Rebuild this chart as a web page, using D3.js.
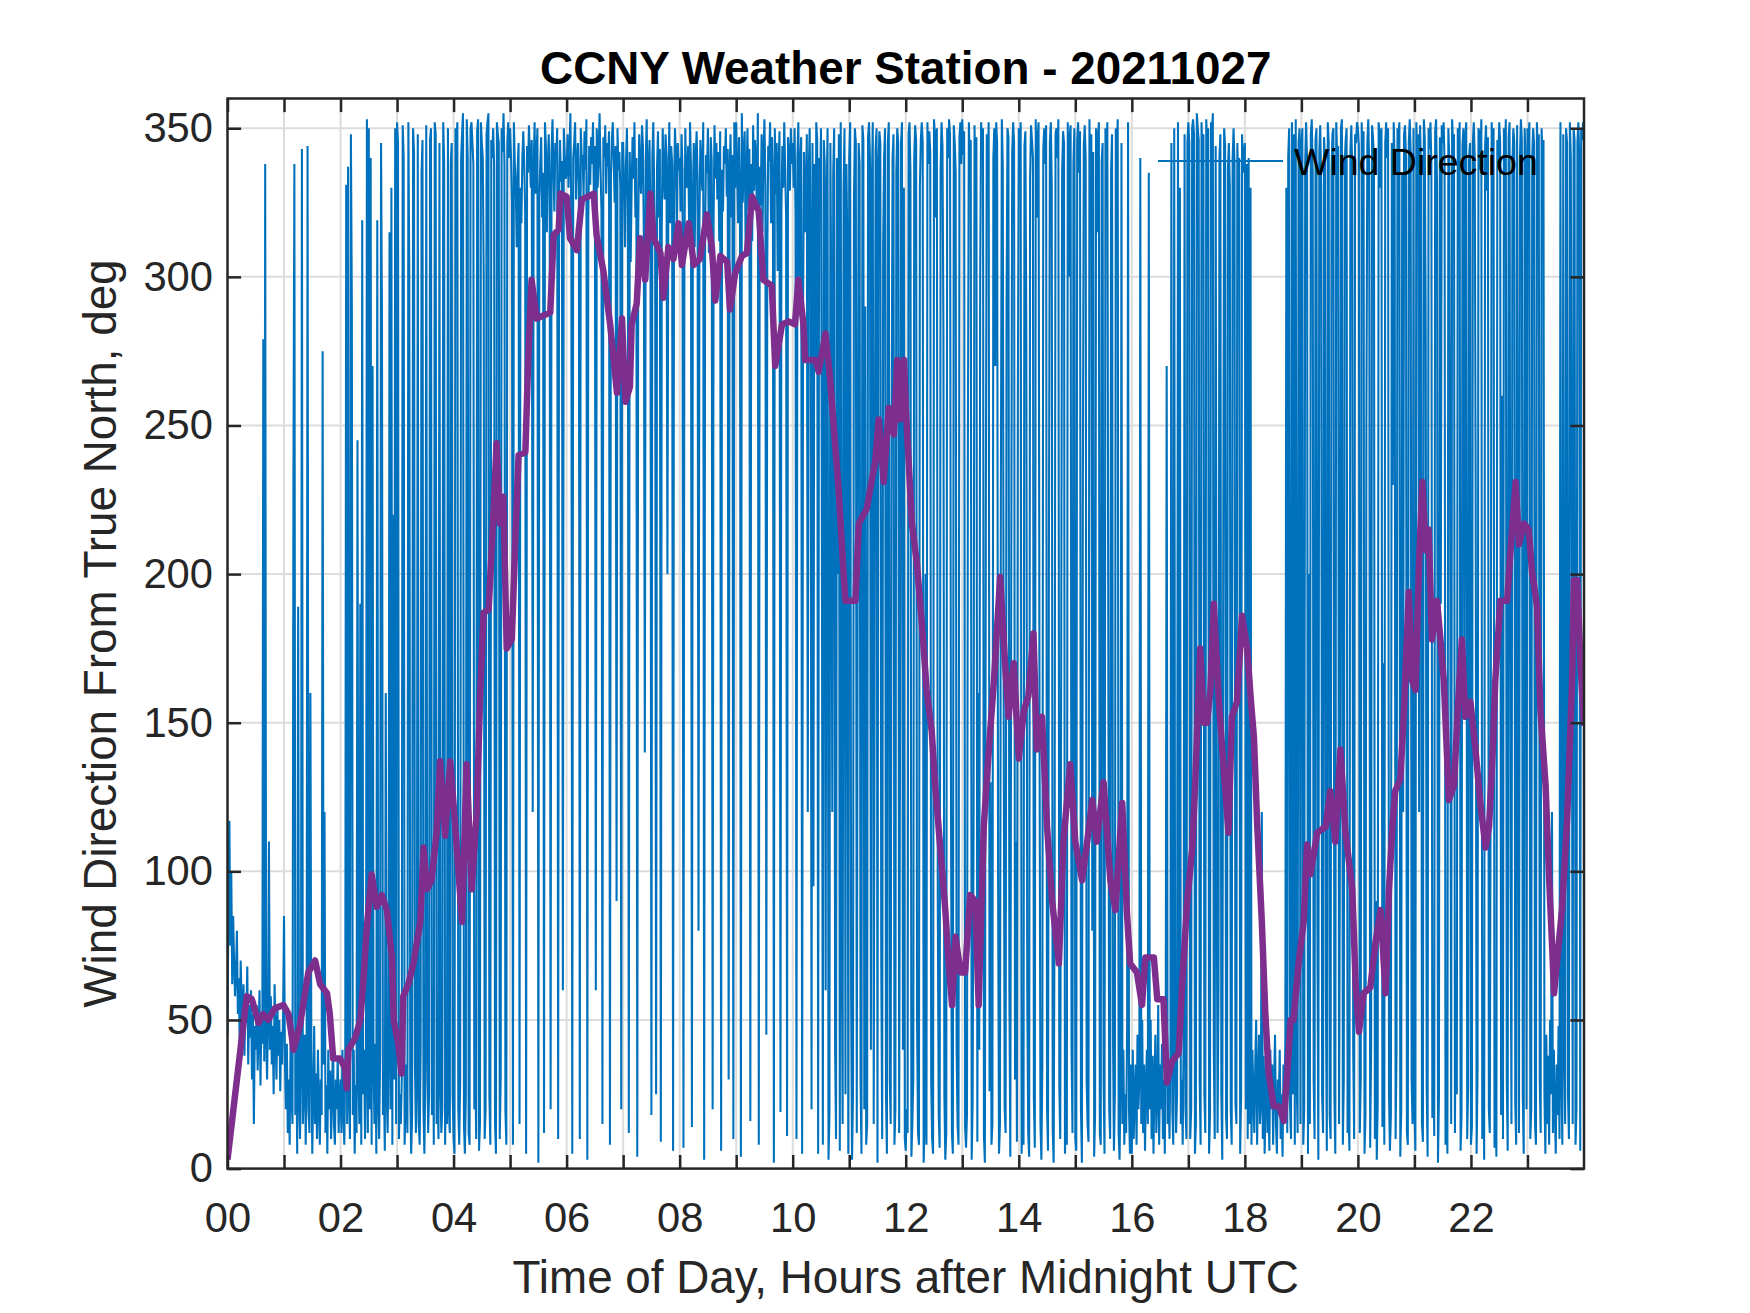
<!DOCTYPE html>
<html>
<head>
<meta charset="utf-8">
<script src="https://cdn.jsdelivr.net/npm/d3@7"></script>
<style>
  body { margin: 0; background: #fff; }
  text { font-family: "Liberation Sans", Arial, sans-serif; }
</style>
</head>
<body>
<div id="container"></div>
<script>
const width = 1750;
const height = 1313;
const plot = { left: 227.5, top: 98.5, right: 1584, bottom: 1168.6 };

// wind direction, one row per hour, one reading per minute
const windDir = [
  [45,90,117,75,100,62,85,70,58,66, 80,52,64,40,70,55,47,62,38,58, 50,68,35,55,44,60,30,52,15,48, 40,55,33,46,60,28,50,42,279,36, 338,45,30,52,110,40,58,35,48,25, 62,44,30,55,38,50,26,46,35,52],
  [85,35,20,42,12,30,8,45,25,15, 232,338,18,40,5,189,22,10,35,343, 15,28,45,8,30,344,20,12,160,38, 5,25,48,15,32,10,40,22,8,30, 18,275,35,120,12,28,5,40,20,33, 10,25,45,15,8,30,20,38,12,25],
  [30,12,40,20,8,35,331,15,337,25, 10,348,290,18,40,5,28,12,245,30, 15,190,8,319,25,40,10,30,353,12, 350,20,340,8,270,35,15,42,5,319, 22,10,38,345,285,18,30,6,160,25, 12,40,315,20,330,8,220,30,350,15],
  [352,345,10,25,15,30,351,340,8,20, 35,12,352,300,25,5,18,350,342,35, 12,28,348,15,8,40,335,346,20,5, 30,351,45,12,25,346,350,18,60,8, 352,348,15,25,10,345,30,12,20,352, 338,8,35,15,350,20,12,338,345,25],
  [10,5,350,345,352,20,8,30,340,348, 355,15,5,25,353,340,12,8,350,352, 345,338,20,35,10,349,353,6,15,352, 345,340,300,10,20,348,352,355,25,8, 346,340,350,338,15,5,352,348,345,10, 30,350,342,355,338,20,8,345,352,340],
  [350,340,325,8,352,338,331,310,336,345, 15,330,318,340,349,338,322,5,344,335, 351,340,330,346,120,335,352,328,341,350, 2,326,338,347,320,335,12,352,344,315, 337,348,330,20,342,353,336,322,345,340, 350,10,328,346,332,339,60,350,341,333],
  [335,348,330,342,355,318,5,340,345,352, 326,338,345,332,10,350,340,341,327,349, 336,353,3,320,344,331,347,338,352,325, 344,60,350,330,341,355,336,322,15,347, 340,351,328,345,337,349,8,333,346,352, 339,325,344,90,350,336,342,330,20,345],
  [345,330,310,338,350,325,12,342,305,330, 347,333,352,320,340,4,315,348,336,328, 351,344,312,140,339,353,322,334,346,318, 18,340,352,330,308,25,337,349,320,343, 9,316,350,335,326,348,340,200,332,352, 318,344,338,6,327,350,341,314,345,336],
  [340,322,348,336,7,305,350,330,331,344, 318,352,337,14,326,345,310,340,349,333, 80,320,346,338,329,352,3,315,341,335, 350,308,324,347,339,20,318,351,333,345, 326,342,312,349,6,336,322,344,338,350, 327,343,30,335,348,320,341,10,352,330],
  [352,336,318,347,330,4,355,325,341,349, 310,334,350,322,343,16,338,312,351,329, 346,340,320,355,8,337,324,348,315,342, 353,331,45,306,344,339,352,318,347,333, 2,350,328,345,302,338,349,19,322,344, 330,352,336,320,11,347,341,329,350,338],
  [345,330,350,320,10,340,352,300,338,347, 5,290,342,315,330,348,120,335,350,310, 20,345,95,338,270,352,346,5,340,325, 350,210,8,346,338,60,325,350,3,18, 345,290,120,335,350,40,10,340,200,348, 6,352,80,15,330,350,25,338,310,5],
  [340,352,60,3,25,325,350,345,12,210, 345,338,30,5,351,346,20,290,8,15, 347,352,340,40,330,352,15,180,343,350, 2,336,349,345,70,10,310,340,350,25, 5,345,352,30,15,250,340,348,8,20, 335,350,345,12,160,345,352,40,330,10],
  [6,20,12,348,352,335,4,15,30,340, 351,346,50,12,8,330,346,352,345,2, 15,200,8,352,338,349,342,30,10,5, 353,347,320,350,90,18,7,336,352,344, 280,25,3,12,350,340,353,348,130,12, 5,351,345,335,40,15,8,347,352,338],
  [353,341,349,14,7,18,250,352,338,346, 3,22,120,351,330,347,9,160,40,300, 352,344,350,11,2,220,348,335,352,26, 130,8,15,340,350,270,352,345,100,5, 15,230,353,338,150,20,12,290,350,347, 60,4,200,342,352,345,30,110,9,260],
  [350,337,352,5,18,8,344,349,280,60, 12,4,333,351,346,340,24,7,353,320, 347,352,150,15,3,35,343,350,338,351, 20,6,210,345,352,330,14,2,90,348, 350,340,353,28,10,170,335,349,345,5, 18,8,352,300,347,351,40,12,338,350],
  [10,6,346,352,335,349,20,2,230,344, 351,340,30,15,9,353,327,348,80,342, 4,18,350,315,347,352,12,8,339,345, 30,5,350,343,352,180,20,10,336,348, 45,6,25,350,340,353,12,3,30,345, 15,40,8,25,12,48,352,20,5,35],
  [5,40,10,25,35,8,45,20,30,340, 15,50,12,35,6,28,40,15,335,20, 50,10,38,5,30,45,12,25,55,8, 35,20,42,10,30,5,48,270,15,28, 10,40,345,20,8,350,35,12,25,352, 40,330,15,30,8,45,348,20,10,345],
  [352,345,10,20,350,353,348,5,15,355, 350,346,30,8,352,340,348,25,12,353, 345,350,5,18,352,348,355,40,10,344, 120,12,60,340,348,25,3,200,350,344, 18,10,336,345,330,20,8,340,350,338, 22,15,345,330,340,5,25,348,335,342],
  [345,20,338,10,340,15,330,8,40,25, 12,35,50,8,30,45,15,22,120,10, 38,5,25,48,12,30,6,40,20,35, 8,28,45,15,5,30,22,40,10,25, 4,35,18,45,330,12,340,350,20,10, 352,25,348,8,353,30,12,345,350,15],
  [345,350,8,20,338,352,340,5,200,15, 348,353,335,30,10,346,350,80,3,342, 351,330,25,12,347,340,60,6,352,345, 18,10,336,348,350,25,5,352,340,344, 15,120,350,353,8,30,338,346,350,12, 20,6,342,351,335,40,10,348,345,352],
  [350,344,12,30,352,338,349,5,18,250, 345,353,336,7,40,351,347,340,10,90, 3,22,352,348,330,350,14,170,8,345, 352,340,350,25,6,18,345,230,352,338, 10,40,350,347,352,4,20,335,120,348, 351,340,12,8,345,353,342,30,15,350],
  [20,6,352,340,348,120,351,335,15,9, 353,346,280,28,4,350,343,352,338,17, 60,11,349,353,330,2,24,347,190,351, 345,352,338,8,30,5,350,340,210,15, 353,345,348,12,70,25,350,336,352,6, 18,344,350,160,347,352,10,28,340,345],
  [8,14,345,352,340,230,5,33,350,348, 336,353,10,70,3,344,351,329,347,20, 12,150,352,341,350,7,26,4,346,338, 352,345,18,260,10,350,340,353,30,6, 347,352,100,15,338,350,345,22,8,351, 180,12,340,353,346,25,5,350,338,20],
  [350,345,352,10,20,340,350,345,15,8, 352,340,348,30,12,350,338,346,25,5, 45,15,38,8,50,25,120,12,40,20, 5,35,18,48,10,352,30,8,348,40, 15,350,345,25,10,352,340,200,15,350, 346,8,20,345,352,340,6,350,346,352]
];

// smoothed direction [hour, deg]
const smoothDir = [
  [0,3],[0.34,58],[0.43,57],[0.55,49],[0.63,52],[0.72,50],[0.84,54],[0.99,55],[1.08,52],[1.17,40],[1.28,48],[1.37,59],[1.43,66],[1.55,70],[1.64,62],[1.76,59],[1.81,52],[1.87,37],[1.99,37],[2.08,34],[2.11,27],[2.14,40],[2.26,44],[2.35,50],[2.40,62],[2.46,80],[2.55,99],[2.64,88],[2.73,92],[2.82,87],[2.91,71],[2.94,50],[3.02,42],[3.08,32],[3.11,58],[3.20,62],[3.29,69],[3.41,83],[3.47,108],[3.53,94],[3.61,97],[3.70,113],[3.76,137],[3.85,112],[3.94,137],
  [4.03,115],[4.15,83],[4.23,136],[4.32,94],[4.41,120],[4.47,159],[4.53,187],[4.62,188],[4.71,222],[4.76,244],[4.82,217],[4.88,226],[4.94,175],[5.03,178],[5.09,210],[5.15,240],[5.27,241],[5.32,272],[5.38,299],[5.47,286],[5.71,288],[5.77,314],[5.86,316],[5.89,328],[6.00,327],[6.06,313],[6.18,309],[6.27,326],[6.48,328],[6.53,314],[6.65,302],[6.77,284],[6.89,261],[6.98,286],[7.04,258],[7.12,263],[7.15,284],[7.24,291],[7.30,313],[7.39,299],[7.48,328],[7.54,313],[7.66,308],[7.71,293],[7.80,310],[7.89,306],[7.98,318],
  [8.04,304],[8.16,318],[8.25,304],[8.36,306],[8.48,321],[8.57,310],[8.63,292],[8.72,307],[8.84,305],[8.89,289],[8.98,301],[9.10,307],[9.19,308],[9.28,327],[9.40,322],[9.48,299],[9.63,297],[9.69,270],[9.81,284],[9.93,285],[10.04,284],[10.10,299],[10.19,284],[10.22,272],[10.40,272],[10.46,268],[10.58,281],[10.66,266],[10.81,229],[10.87,210],[10.93,191],[11.11,191],[11.17,217],[11.31,222],[11.46,238],[11.52,252],[11.61,231],[11.70,256],[11.79,247],[11.85,272],[11.90,252],[11.97,272],
  [12.00,256],[12.11,217],[12.20,203],[12.29,182],[12.37,161],[12.46,147],[12.52,129],[12.61,108],[12.70,87],[12.76,69],[12.82,55],[12.88,78],[12.97,66],[13.05,66],[13.14,92],[13.23,90],[13.29,55],[13.38,115],[13.47,141],[13.56,164],[13.67,199],[13.76,169],[13.82,152],[13.91,170],[14.00,138],[14.09,154],[14.17,159],[14.26,180],[14.32,141],[14.41,152],[14.50,115],[14.59,90],[14.71,69],[14.79,110],[14.91,136],[15.00,110],[15.12,97],[15.21,110],[15.30,124],[15.38,110],[15.50,130],[15.62,97],[15.71,87],[15.83,123],[15.91,87],[15.97,69],
  [16.09,66],[16.18,55],[16.24,71],[16.39,71],[16.45,57],[16.56,57],[16.62,29],[16.71,36],[16.83,39],[16.89,62],[16.98,90],[17.07,108],[17.12,129],[17.21,175],[17.27,150],[17.33,150],[17.39,161],[17.45,190],[17.54,157],[17.60,141],[17.71,113],[17.77,152],[17.86,157],[17.95,186],[18.04,175],[18.10,159],[18.16,145],[18.22,115],[18.30,83],[18.36,53],[18.42,32],[18.51,21],[18.60,21],[18.69,16],[18.75,32],[18.81,50],[18.86,50],[18.95,69],[19.04,83],[19.10,109],[19.16,99],[19.28,113],[19.43,115],[19.51,127],[19.60,110],[19.69,141],[19.78,113],[19.90,94],[19.96,62],
  [20.02,46],[20.10,59],[20.22,61],[20.31,76],[20.40,87],[20.49,59],[20.55,94],[20.61,115],[20.66,127],[20.75,131],[20.81,152],[20.90,194],[20.96,164],[21.02,161],[21.08,203],[21.14,231],[21.20,208],[21.25,215],[21.31,178],[21.40,191],[21.46,178],[21.52,164],[21.61,124],[21.70,129],[21.78,159],[21.84,178],[21.90,152],[21.99,157],[22.08,141],[22.17,122],[22.26,108],[22.32,115],[22.38,138],[22.43,164],[22.52,191],[22.64,191],[22.70,208],[22.79,231],[22.85,210],[22.94,217],[23.02,215],[23.08,201],[23.17,189],[23.23,154],[23.32,129],[23.38,99],[23.44,73],[23.47,59],[23.53,71],[23.61,87],[23.70,117],[23.79,164],[23.82,198],[23.88,198],[23.94,169],[24.00,149]
];

const xTickHours = [0,1,2,3,4,5,6,7,8,9,10,11,12,13,14,15,16,17,18,19,20,21,22,23];
const xTickLabels = ["00","","02","","04","","06","","08","","10","","12","","14","","16","","18","","20","","22",""];
const yTicks = [0,50,100,150,200,250,300,350];

const titleText = "CCNY Weather Station - 20211027";
const xLabelText = "Time of Day, Hours after Midnight UTC";
const yLabelText = "Wind Direction From True North, deg";
const legendText = "Wind Direction";

const axisColor = "#262626";
const tickLen = 13.6;

let x = d3.scaleLinear().domain([0, 24]).range([plot.left, plot.right]);
let y = d3.scaleLinear().domain([0, 360]).range([plot.bottom, plot.top]);

let samples = [];
windDir.forEach((row, h) => {
    row.forEach((v, i) => {
        samples.push({ t: h + i / 60, v: v });
    });
});

let svg = d3.select("#container").append("svg")
    .attr("width", width)
    .attr("height", height)
    .attr("viewBox", `0 0 ${width} ${height}`)
    .style("background", "#fff");

svg.append("defs").append("clipPath")
    .attr("id", "plotClip")
    .append("rect")
    .attr("x", plot.left)
    .attr("y", plot.top)
    .attr("width", plot.right - plot.left)
    .attr("height", plot.bottom - plot.top);

// grid
let grid = svg.append("g").attr("stroke", "#dcdcdc").attr("stroke-width", 2);
grid.selectAll("line.gx")
    .data(xTickHours.filter(d => d > 0))
    .join("line")
    .attr("class", "gx")
    .attr("x1", d => x(d)).attr("x2", d => x(d))
    .attr("y1", plot.top).attr("y2", plot.bottom);
grid.selectAll("line.gy")
    .data(yTicks.filter(d => d > 0))
    .join("line")
    .attr("class", "gy")
    .attr("x1", plot.left).attr("x2", plot.right)
    .attr("y1", d => y(d)).attr("y2", d => y(d));

let dataLayer = svg.append("g").attr("clip-path", "url(#plotClip)");

let rawLine = d3.line().x(d => x(d.t)).y(d => y(d.v));
dataLayer.append("path")
    .datum(samples)
    .attr("fill", "none")
    .attr("stroke", "#0072BD")
    .attr("stroke-width", 2.08)
    .attr("stroke-linejoin", "miter")
    .attr("d", rawLine);

let smoothLine = d3.line().x(d => x(d[0])).y(d => y(d[1]));
dataLayer.append("path")
    .datum(smoothDir)
    .attr("fill", "none")
    .attr("stroke", "#7E2F8E")
    .attr("stroke-width", 6.5)
    .attr("stroke-linejoin", "round")
    .attr("d", smoothLine);

// axes
let xAxis = svg.append("g")
    .attr("transform", `translate(0,${plot.bottom})`)
    .call(d3.axisBottom(x).tickValues(xTickHours).tickFormat((d, i) => xTickLabels[i])
        .tickSizeInner(-tickLen).tickSizeOuter(0).tickPadding(34));
let xAxisTop = svg.append("g")
    .attr("transform", `translate(0,${plot.top})`)
    .call(d3.axisTop(x).tickValues(xTickHours).tickFormat("")
        .tickSizeInner(-tickLen).tickSizeOuter(0));
let yAxis = svg.append("g")
    .attr("transform", `translate(${plot.left},0)`)
    .call(d3.axisLeft(y).tickValues(yTicks)
        .tickSizeInner(-tickLen).tickSizeOuter(0).tickPadding(14.5));
let yAxisRight = svg.append("g")
    .attr("transform", `translate(${plot.right},0)`)
    .call(d3.axisRight(y).tickValues(yTicks).tickFormat("")
        .tickSizeInner(-tickLen).tickSizeOuter(0));

[xAxis, xAxisTop, yAxis, yAxisRight].forEach(a => {
    a.select(".domain").remove();
    a.selectAll(".tick line").attr("stroke", axisColor).attr("stroke-width", 2.5);
    a.selectAll(".tick text")
        .attr("fill", axisColor)
        .style("font-family", "'Liberation Sans', Arial, sans-serif")
        .style("font-size", "41.7px");
});

svg.append("rect")
    .attr("x", plot.left)
    .attr("y", plot.top)
    .attr("width", plot.right - plot.left)
    .attr("height", plot.bottom - plot.top)
    .attr("fill", "none")
    .attr("stroke", axisColor)
    .attr("stroke-width", 2.5);

// labels
svg.append("text")
    .attr("x", (plot.left + plot.right) / 2)
    .attr("y", 84)
    .attr("text-anchor", "middle")
    .attr("font-weight", "bold")
    .attr("font-size", "45.8px")
    .attr("fill", "#000")
    .text(titleText);

svg.append("text")
    .attr("x", (plot.left + plot.right) / 2)
    .attr("y", 1293)
    .attr("text-anchor", "middle")
    .attr("font-size", "45.8px")
    .attr("fill", axisColor)
    .text(xLabelText);

svg.append("text")
    .attr("transform", `translate(116,${(plot.top + plot.bottom) / 2}) rotate(-90)`)
    .attr("text-anchor", "middle")
    .attr("font-size", "45.8px")
    .attr("fill", axisColor)
    .text(yLabelText);

// legend (no box)
let legend = svg.append("g");
legend.append("line")
    .attr("x1", 1158).attr("x2", 1283)
    .attr("y1", 161).attr("y2", 161)
    .attr("stroke", "#0072BD")
    .attr("stroke-width", 2.08);
legend.append("text")
    .attr("x", 1294)
    .attr("y", 174.5)
    .attr("font-size", "37.5px")
    .attr("fill", "#000")
    .text(legendText);
</script>
</body>
</html>
